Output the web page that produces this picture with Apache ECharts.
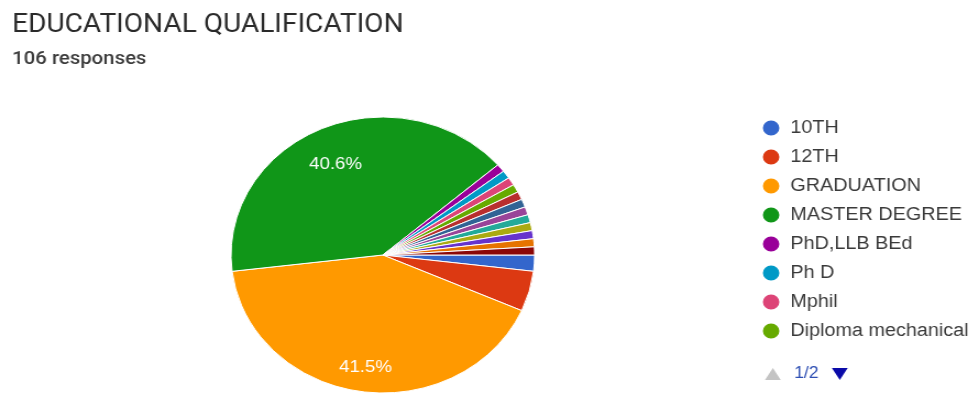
<!DOCTYPE html>
<html>
<head>
<meta charset="utf-8">
<title>EDUCATIONAL QUALIFICATION</title>
<script src="https://cdn.jsdelivr.net/npm/echarts@6/dist/echarts.min.js"></script>
<style>
  html, body { margin: 0; padding: 0; background: #fff; overflow: hidden; }
  #chart {
    width: 888px;
    height: 399px;
    transform: scaleX(1.1);
    transform-origin: 0 0;
  }
</style>
</head>
<body>
<div id="chart"></div>
<script>
// Survey answers: highest educational qualification (106 responses)
const categories = [
  '10TH', '12TH', 'GRADUATION', 'MASTER DEGREE',
  'PhD,LLB BEd', 'Ph D', 'Mphil', 'Diploma mechanical',
  'B.Ed', 'M.Ed', 'MBA', 'MCA',
  'B.Tech', 'ITI', 'Diploma', 'M.Tech'
];
const responses = [
  2, 5, 44, 43,
  1, 1, 1, 1,
  1, 1, 1, 1,
  1, 1, 1, 1
];
const palette = [
  '#3366cc', '#dc3912', '#ff9900', '#109618',
  '#990099', '#0099c6', '#dd4477', '#66aa00',
  '#b82e2e', '#316395', '#994499', '#22aa99',
  '#aaaa11', '#6633cc', '#e67300', '#8b0707'
];
const titleText = 'EDUCATIONAL QUALIFICATION';
const subtitleText = '106 responses';

const slices = categories.map((name, i) => ({ name, value: responses[i] }));

const pieCenter = [348, 255];
const pieRadius = 138;

// Legend marker: a 15px dot, with an empty lead-in on its left and a small
// spacer on its right, so the pager (centred on the legend block) sits under the dots.
const markerLead = 108;
const markerIcon =
  'path://M' + (-markerLead) + ',7.5L' + (-markerLead) + ',7.51' +
  'M0,7.5A7.5,7.5 0 1,1 15,7.5A7.5,7.5 0 1,1 0,7.5Z' +
  'M20,7.5L20,7.51';
const markerWidth = markerLead + 20;

const chart = echarts.init(document.getElementById('chart'), null, { renderer: 'canvas' });

chart.setOption({
  animation: false,
  color: palette,
  title: {
    text: titleText,
    subtext: subtitleText,
    left: 11,
    top: 13,
    padding: 0,
    itemGap: 11,
    textStyle: {
      fontFamily: 'Roboto',
      fontSize: 25.5,
      fontWeight: 400,
      color: '#2a2a2a'
    },
    subtextStyle: {
      fontFamily: 'Roboto',
      fontSize: 18.5,
      fontWeight: 500,
      color: '#3c3c3c'
    }
  },
  legend: {
    type: 'scroll',
    orient: 'vertical',
    left: 693.5 - markerLead,
    top: 114,
    height: 268,
    padding: 0,
    itemWidth: markerWidth,
    itemHeight: 15,
    itemGap: 1,
    icon: markerIcon,
    itemStyle: { borderWidth: 0 },
    data: categories,
    textStyle: {
      fontFamily: 'Liberation Sans',
      fontSize: 18,
      lineHeight: 28,
      color: '#3a3a3a'
    },
    pageButtonPosition: 'end',
    pageButtonItemGap: 5,
    pageButtonGap: 17,
    pageFormatter: '{current}/{total}',
    pageIcons: {
      vertical: ['path://M0,10L6,0L12,10Z', 'path://M0,0L12,0L6,10Z']
    },
    pageIconSize: [15, 12],
    pageIconColor: '#0a0aa8',
    pageIconInactiveColor: '#c4c4c4',
    pageTextStyle: {
      fontFamily: 'Liberation Sans',
      fontSize: 16,
      lineHeight: 16,
      color: '#2e4fb3',
      padding: [0, 0, 0, 10]
    }
  },
  series: [
    {
      name: 'EDUCATIONAL QUALIFICATION',
      type: 'pie',
      center: pieCenter,
      radius: [0, pieRadius],
      startAngle: 0,
      clockwise: true,
      minAngle: 0,
      silent: true,
      label: { show: false },
      labelLine: { show: false },
      itemStyle: { borderColor: '#ffffff', borderWidth: 1 },
      data: slices
    },
    {
      // transparent ring that carries the percentage labels further out
      name: 'labels',
      type: 'pie',
      center: pieCenter,
      radius: [pieRadius * 0.5, pieRadius],
      startAngle: 0,
      clockwise: true,
      silent: true,
      legendHoverLink: false,
      avoidLabelOverlap: false,
      percentPrecision: 1,
      itemStyle: { color: 'rgba(0,0,0,0)', borderWidth: 0 },
      labelLine: { show: false },
      label: {
        show: true,
        position: 'inner',
        offset: [0, 7],
        fontFamily: 'Liberation Sans',
        fontSize: 17,
        color: '#ffffff',
        formatter: p => (p.percent >= 10 ? p.percent.toFixed(1) + '%' : '')
      },
      data: slices
    }
  ]
});
</script>
</body>
</html>
